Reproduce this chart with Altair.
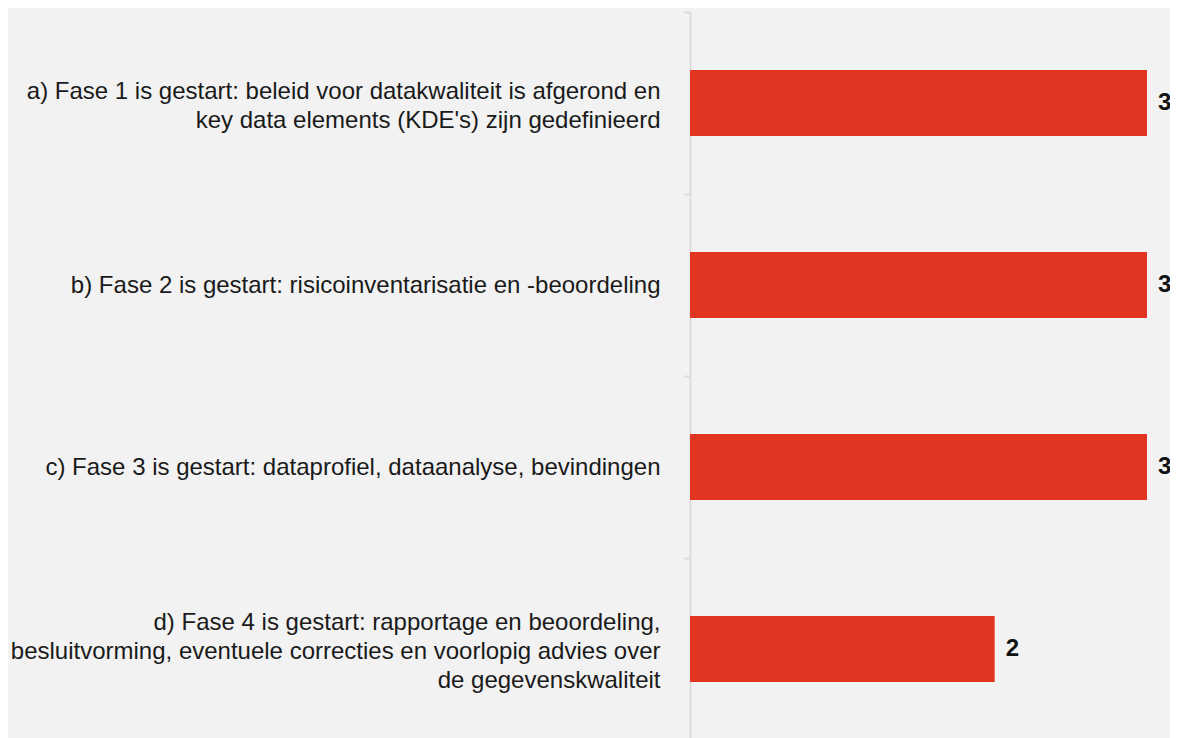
import altair as alt
import pandas as pd

categories = [
    "a) Fase 1 is gestart: beleid voor datakwaliteit is afgerond en|key data elements (KDE's) zijn gedefinieerd",
    "b) Fase 2 is gestart: risicoinventarisatie en -beoordeling",
    "c) Fase 3 is gestart: dataprofiel, dataanalyse, bevindingen",
    "d) Fase 4 is gestart: rapportage en beoordeling,|besluitvorming, eventuele correcties en voorlopig advies over|de gegevenskwaliteit",
]
values = [3, 3, 3, 2]

df = pd.DataFrame({"cat": categories, "val": values})

FONT = "Liberation Sans"
HALF_STEP = 91
y_enc = alt.Y(
    "cat:N",
    sort=None,
    title=None,
    scale=alt.Scale(paddingInner=0.637, paddingOuter=0.3185),
    axis=alt.Axis(
        labelExpr="split(datum.label, '|')",
        labelFont=FONT,
        labelFontSize=24,
        labelColor="#1a1a1a",
        labelLineHeight=29,
        labelAlign="right",
        labelBaseline="middle",
        labelPadding=24,
        labelLimit=0,
        tickOffset=-HALF_STEP,
        labelOffset={
            "condition": [
                {"test": "length(split(datum.value, '|')) == 2", "value": HALF_STEP - 12},
                {"test": "length(split(datum.value, '|')) == 3", "value": HALF_STEP - 27},
            ],
            "value": HALF_STEP,
        },
        tickSize=6,
        tickWidth=2,
        tickColor="#dcdcdc",
        domainColor="#dcdcdc",
        domainWidth=2,
        grid=False,
    ),
)
x_enc = alt.X("val:Q", scale=alt.Scale(domain=[0, 3], nice=False), axis=None)

bars = alt.Chart(df).mark_bar(color="#E13421").encode(x=x_enc, y=y_enc)
labels = alt.Chart(df).mark_text(
    align="left", baseline="middle", dx=11, font=FONT, fontSize=24,
    fontWeight="bold", color="#111111",
).encode(x=x_enc, y=y_enc, text="val:Q")

chart = (
    alt.layer(bars, labels)
    .properties(
        width=457,
        height=728,
        background="#f2f2f2",
        padding={"left": 682, "top": 4, "right": 23, "bottom": 0},
        autosize=alt.AutoSizeParams(type="none"),
    )
    .configure_view(stroke=None)
)

chart.save("out.html", embed_options={"renderer": "svg", "actions": False})
